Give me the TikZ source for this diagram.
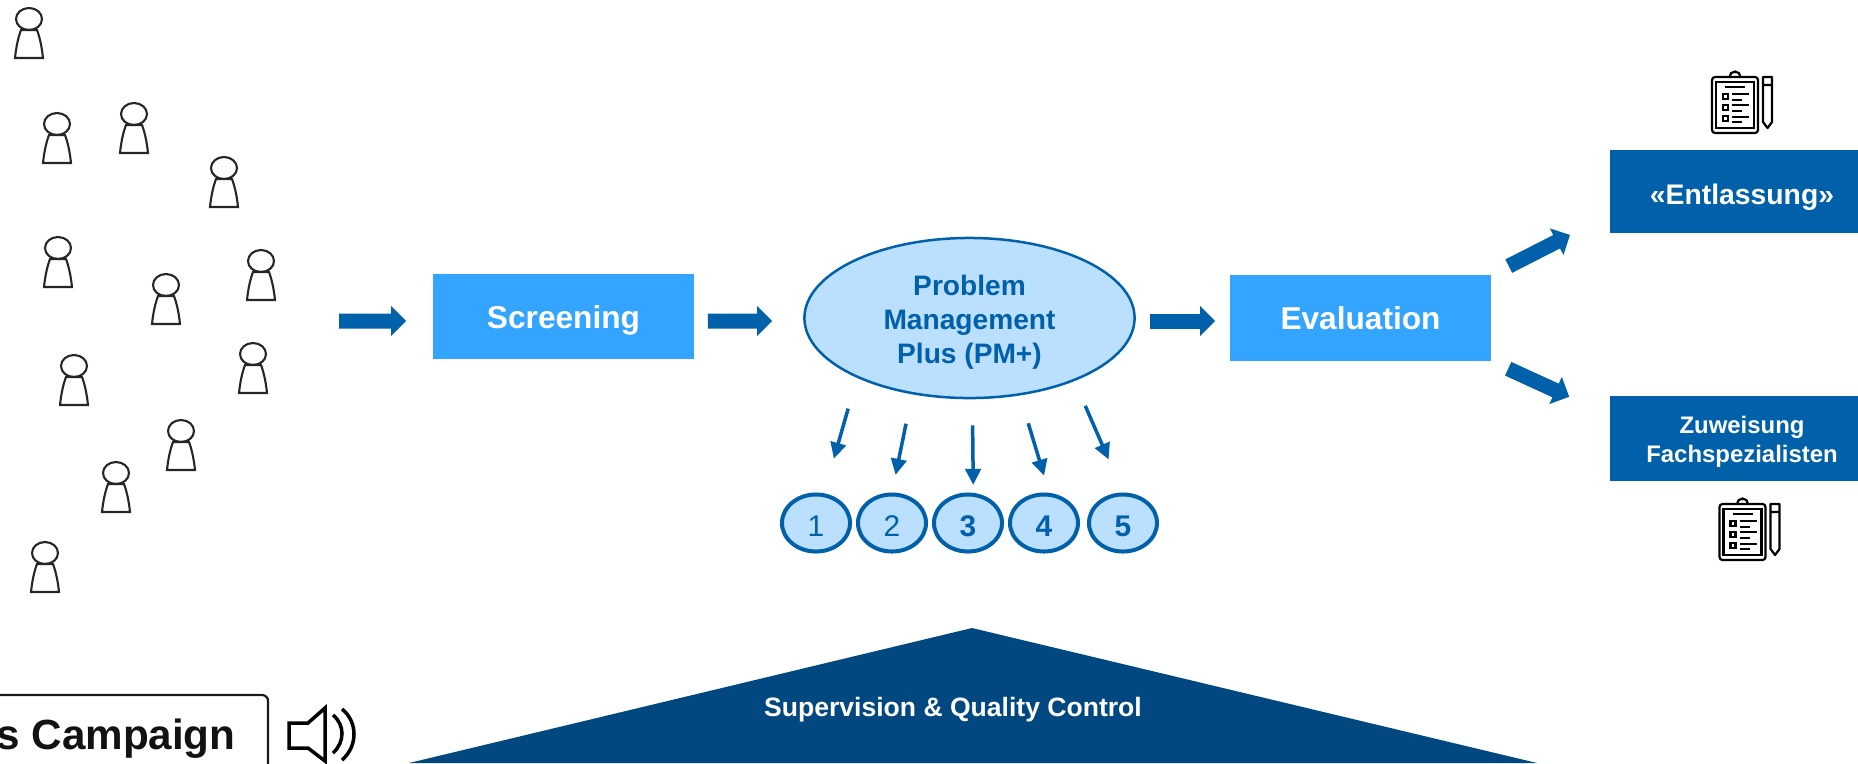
\documentclass[tikz,border=0pt]{standalone}
\usepackage{fontspec}
\usepackage{tikz}
\usetikzlibrary{arrows.meta,shapes.geometric}
\setmainfont{Liberation Sans}

\definecolor{pmblue}{HTML}{0060A9}
\definecolor{boxblue}{HTML}{33A4FF}
\definecolor{paleblue}{HTML}{BBDFFF}
\definecolor{navyblue}{HTML}{00487F}

\tikzset{
  lightbox/.style={fill=boxblue,text=white,font=\fontsize{9}{11}\selectfont\bfseries,minimum width=2.61cm,minimum height=0.85cm,inner sep=0pt,text height=0.23cm,text depth=0pt},
  darkbox/.style={fill=pmblue,text=white,font=\bfseries,minimum width=2.64cm,inner sep=0pt,align=center},
  stepnode/.style={ellipse,draw=pmblue,fill=paleblue,text=pmblue,line width=0.04cm,minimum width=0.68cm,minimum height=0.57cm,inner sep=0pt,font=\fontsize{8.5}{10}\selectfont,text height=0.27cm,text depth=0pt},
  bigarrow/.style={-{Triangle[length=0.15cm,width=0.29cm]},line width=0.15cm,draw=pmblue},
  smallarrow/.style={-{Triangle[length=0.16cm,width=0.155cm]},line width=0.035cm,draw=pmblue},
  person/.pic={
    \draw[line width=0.021cm,draw=black!85] (0,0) ellipse [x radius=13,y radius=11];
    \draw[line width=0.021cm,draw=black!85] (-8,11) -- (8,11) .. controls (11,19) and (13,29) .. (14,39) -- (-14,39) .. controls (-13,29) and (-11,19) .. (-8,11) -- cycle;
  },
  clipboard/.pic={
    \draw[line width=0.022cm,rounded corners=0.03cm] (-23,-28) rectangle (23,28);
    \draw[line width=0.022cm] (-19,-23) rectangle (19,23);
    \draw[line width=0.022cm] (-5.5,-28) arc (-180:0:5.5);
    \fill (0,-33) circle [radius=1.5];
    \draw[line width=0.022cm] (-10,-18) -- (10,-18);
    \draw[line width=0.022cm] (-12,-11) rectangle (-7,-6) (-12,0) rectangle (-7,5) (-12,11) rectangle (-7,16);
    \draw[line width=0.022cm] (-3,-11) -- (14,-11) (-3,-5) -- (7,-5) (-3,0) -- (14,0) (-3,6) -- (7,6) (-3,12) -- (14,12) (-3,17) -- (7,17);
    \draw[line width=0.022cm,line join=round] (28,-28) -- (37,-28) -- (37,17) -- (32.5,23) -- (28,17) -- cycle (28,-20) -- (37,-20);
  }
}

\begin{document}
\begin{tikzpicture}[x=0.01cm,y=-0.01cm]

  \clip (0,0) rectangle (1858,763);

  \pic at (29,19) {person};
  \pic at (57,124) {person};
  \pic at (134,114) {person};
  \pic at (224,168) {person};
  \pic at (58,248) {person};
  \pic at (166,285) {person};
  \pic at (261,261) {person};
  \pic at (74,366) {person};
  \pic at (253,354) {person};
  \pic at (181,431) {person};
  \pic at (116,473) {person};
  \pic at (45,553) {person};

  \fill[navyblue] (972,628) -- (1537,763) -- (409,763) -- cycle;
  \node[text=white,font=\fontsize{7.55}{9}\selectfont\bfseries] (supervision) at (953,710) {Supervision \& Quality Control};

  \node[draw=black!90,line width=0.022cm,rounded corners=0.06cm,minimum width=3.04cm,minimum height=0.88cm,inner sep=0pt,text=black!93,font=\fontsize{12}{14}\selectfont\bfseries] (campaign) at (116,739) {s Campaign};

  \draw[line width=0.035cm] (289,723) -- (308,723) -- (325,708) -- (325,761) -- (308,748) -- (289,748) -- cycle;
  \draw[line width=0.035cm] (333,715) .. controls (345,725) and (345,742) .. (333,753);
  \draw[line width=0.035cm] (342,709) .. controls (358,722) and (358,746) .. (342,760);

  \node[lightbox] (screening) at (563.5,316.5) {Screening};
  \node[lightbox] (evaluation) at (1360.5,318) {Evaluation};
  \node[ellipse,draw=pmblue,fill=paleblue,text=pmblue,line width=0.025cm,minimum width=3.3cm,minimum height=1.6cm,inner sep=0pt,align=center,font=\fontsize{8}{9.67}\selectfont\bfseries] (pm) at (969.5,318) {\rule{0pt}{0.29cm}Problem\\Management\\Plus (PM+)};

  \node[darkbox,minimum height=0.83cm,font=\fontsize{8.05}{10}\selectfont\bfseries,text height=0.25cm,text depth=0pt] (entlassung) at (1742,191.5) {«Entlassung»};
  \node[darkbox,minimum height=0.85cm,font=\fontsize{6.8}{8.25}\selectfont\bfseries] (zuweisung) at (1742,438.5) {\rule{0pt}{0.24cm}Zuweisung\\Fachspezialisten};

  \pic at (1735,105) {clipboard};
  \pic at (1742.5,532) {clipboard};

  \node[stepnode] (s1) at (816,523) {1};
  \node[stepnode] (s2) at (892,523) {2};
  \node[stepnode,font=\fontsize{8.5}{10}\selectfont\bfseries] (s3) at (968,523) {3};
  \node[stepnode,font=\fontsize{8.5}{10}\selectfont\bfseries] (s4) at (1044,523) {4};
  \node[stepnode,font=\fontsize{8.5}{10}\selectfont\bfseries] (s5) at (1123,523) {5};

  \coordinate (crowd) at (339,321);

  \draw[bigarrow,shorten >=0.26cm] (crowd) -- ([yshift=-0.045cm]screening.west);
  \draw[bigarrow,shorten <=0.13cm,shorten >=0.31cm] ([yshift=-0.045cm]screening.east) -- ([yshift=-0.03cm]pm.west);
  \draw[bigarrow,shorten <=0.14cm,shorten >=0.14cm] ([yshift=-0.03cm]pm.east) -- ([yshift=-0.03cm]evaluation.west);
  \draw[bigarrow,shorten <=0.19cm,shorten >=0.44cm] (evaluation.north east) -- (entlassung.190);
  \draw[bigarrow,shorten <=0.18cm,shorten >=0.44cm] (evaluation.south east) -- (zuweisung.170);

  \draw[smallarrow,shorten <=0.32cm,shorten >=0.36cm] (pm.208) -- (s1.75);
  \draw[smallarrow,shorten <=0.30cm,shorten >=0.18cm] (pm.233) -- (s2.north);
  \draw[smallarrow,shorten <=0.26cm,shorten >=0.08cm] (pm.272) -- (s3.80);
  \draw[smallarrow,shorten <=0.29cm,shorten >=0.18cm] (pm.303) -- (s4.80);
  \draw[smallarrow,shorten <=0.27cm,shorten >=0.36cm] (pm.329) -- (s5.north);

\end{tikzpicture}
\end{document}
